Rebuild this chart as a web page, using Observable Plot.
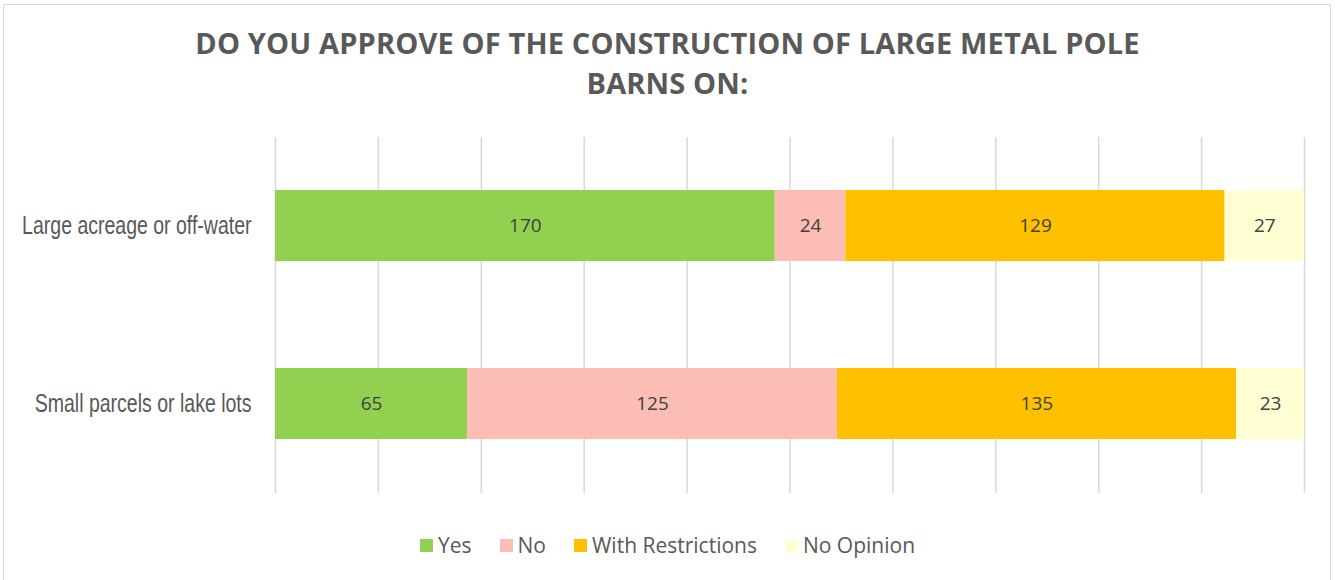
<!DOCTYPE html>
<html>
<head>
<meta charset="utf-8">
<script src="https://cdn.jsdelivr.net/npm/d3@7"></script>
<script src="https://cdn.jsdelivr.net/npm/@observablehq/plot@0.6"></script>
<style>
  html, body { margin: 0; padding: 0; background: #fff; }
  #wrap { position: relative; width: 1335px; height: 580px; overflow: hidden; background: #fff; }
  #frame { position: absolute; left: 3px; top: 4px; width: 1328px; height: 600px; border: 1.5px solid #d9d9d9; box-sizing: border-box; }
  #title { position: absolute; left: 0; top: 23px; width: 1335px; text-align: center;
    font-family: "Open Sans", sans-serif; font-weight: 700; font-size: 29px; line-height: 40px;
    color: #595959; letter-spacing: 0.15px; }
  #chart { position: absolute; left: 0; top: 0; }
  #legend { position: absolute; left: 0; top: 531px; width: 1335px; display: flex; justify-content: center;
    font-family: "Open Sans", sans-serif; font-size: 21px; color: #595959; }
  .item { display: flex; align-items: center; margin: 0 14px; }
  .sw { width: 13px; height: 13px; margin-right: 5px; }
</style>
</head>
<body>
<div id="wrap">
  <div id="frame"></div>
  <div id="title">DO YOU APPROVE OF THE CONSTRUCTION OF LARGE METAL POLE<br>BARNS ON:</div>
  <div id="chart"></div>
  <div id="legend"></div>
</div>
<script>
const categories = ["Large acreage or off-water", "Small parcels or lake lots"];
const series = ["Yes", "No", "With Restrictions", "No Opinion"];
const yesValues = [170, 65];
const noValues = [24, 125];
const restrictionValues = [129, 135];
const noOpinionValues = [27, 23];
const colors = ["#92D050", "#FBBDB4", "#FFC000", "#FFFFD3"];
const gridTicks = [0, 0.1, 0.2, 0.3, 0.4, 0.5, 0.6, 0.7, 0.8, 0.9, 1];

const valuesBySeries = [yesValues, noValues, restrictionValues, noOpinionValues];
const data = [];
categories.forEach((c, i) => {
  series.forEach((s, j) => data.push({category: c, series: s, value: valuesBySeries[j][i]}));
});

const chart = Plot.plot({
  width: 1335,
  height: 580,
  marginLeft: 275,
  marginRight: 31,
  marginTop: 137,
  marginBottom: 87,
  style: {background: "transparent", overflow: "visible"},
  x: {domain: [0, 1], axis: null},
  y: {domain: categories, paddingInner: 0.6, paddingOuter: 0.3, label: null},
  color: {domain: series, range: colors},
  marks: [
    Plot.ruleX(gridTicks, {stroke: "#d9d9d9", strokeWidth: 1.5}),
    Plot.barX(data, {x: "value", y: "category", fill: "series", order: series, offset: "normalize"}),
    Plot.text(data, Plot.stackX({x: "value", y: "category", z: "series", order: series, offset: "normalize",
      text: d => String(d.value), fill: "#404040", fontSize: 19, fontFamily: "Open Sans, sans-serif"})),
    Plot.axisY({tickSize: 0, tickPadding: 24, label: null, fontSize: 26,
      fontFamily: "Liberation Sans, sans-serif", fill: "#595959"})
  ]
});
document.getElementById("chart").appendChild(chart);
// condense the category labels horizontally (condensed display face in the original)
chart.querySelectorAll("g[aria-label='y-axis tick label'] text").forEach(t => {
  const len = t.getComputedTextLength();
  t.setAttribute("textLength", (len * 0.75).toFixed(1));
  t.setAttribute("lengthAdjust", "spacingAndGlyphs");
});

const legend = document.getElementById("legend");
series.forEach((s, i) => {
  const item = document.createElement("div");
  item.className = "item";
  const sw = document.createElement("div");
  sw.className = "sw";
  sw.style.background = colors[i];
  const lab = document.createElement("span");
  lab.textContent = s;
  item.appendChild(sw);
  item.appendChild(lab);
  legend.appendChild(item);
});
</script>
</body>
</html>
